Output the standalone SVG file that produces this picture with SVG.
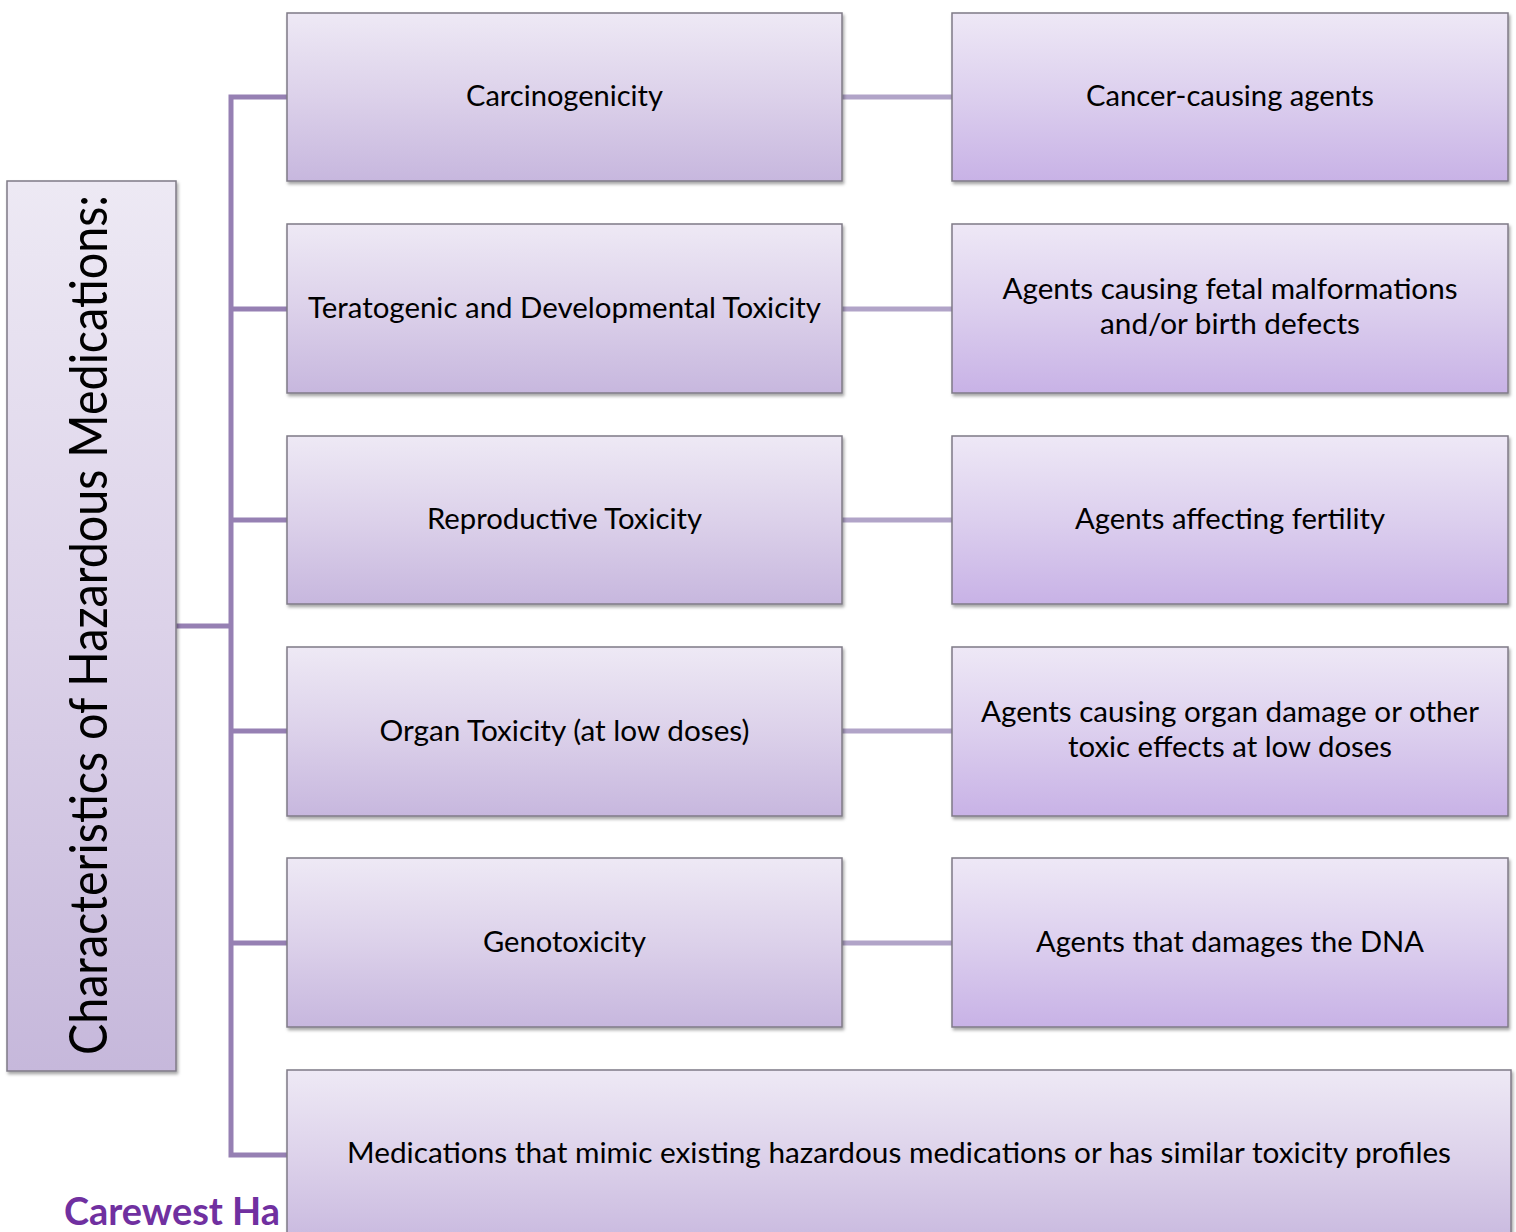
<svg xmlns="http://www.w3.org/2000/svg" width="1516" height="1232" viewBox="0 0 1516 1232">
<style>
.box{stroke:#7f7a86;stroke-width:1.5;filter:url(#sh)}
.mid{fill:url(#gMid)}
.rgt{fill:url(#gRgt)}
.t{font-family:Lato,"Open Sans","Liberation Sans",sans-serif;font-size:28px;fill:#000;text-anchor:middle}
.trunk{stroke:#9680b3;stroke-width:5;fill:none}
.link{stroke:#b1a4c8;stroke-width:5;fill:none}
</style>
<defs>
<linearGradient id="gMid" x1="0" y1="0" x2="0" y2="1">
<stop offset="0" stop-color="#eee9f5"/>
<stop offset="0.5" stop-color="#dcd1ea"/>
<stop offset="1" stop-color="#c7b7de"/>
</linearGradient>
<linearGradient id="gRgt" x1="0" y1="0" x2="0" y2="1">
<stop offset="0" stop-color="#eee8f6"/>
<stop offset="0.5" stop-color="#dccfee"/>
<stop offset="1" stop-color="#c8b2e6"/>
</linearGradient>
<linearGradient id="gLeft" x1="0" y1="0" x2="0" y2="1">
<stop offset="0" stop-color="#ede9f4"/>
<stop offset="0.5" stop-color="#dcd2e9"/>
<stop offset="1" stop-color="#c6b8db"/>
</linearGradient>
<filter id="sh" x="-5%" y="-5%" width="110%" height="115%">
<feDropShadow dx="1.5" dy="2.5" stdDeviation="1.8" flood-color="#000" flood-opacity="0.35"/>
</filter>
</defs>
<rect width="1516" height="1232" fill="#fff"/>

<text x="64" y="1225" font-family="Lato,'Open Sans','Liberation Sans',sans-serif" font-weight="bold" font-size="38" fill="#7030a0" textLength="216" lengthAdjust="spacingAndGlyphs">Carewest Ha</text>

<g id="connectors">
<path class="trunk" d="M176 626H231M287 97H231V1155H287M231 309H287M231 520H287M231 731H287M231 943H287"/>
<path class="link" d="M842 97H952M842 309H952M842 520H952M842 731H952M842 943H952"/>
</g>

<g id="root">
<rect class="box" x="7" y="181" width="169" height="890" fill="url(#gLeft)"/>
<text transform="translate(107 625) rotate(-90)" font-family="Lato,'Open Sans','Liberation Sans',sans-serif" font-size="52" text-anchor="middle" textLength="860" lengthAdjust="spacingAndGlyphs">Characteristics of Hazardous Medications:</text>
</g>

<g id="n1"><rect class="box mid" x="287" y="13" width="555" height="168"/><text class="t" x="564.5" y="106" textLength="197" lengthAdjust="spacingAndGlyphs">Carcinogenicity</text></g>
<g id="n2"><rect class="box mid" x="287" y="224" width="555" height="169"/><text class="t" x="564.5" y="318" textLength="513" lengthAdjust="spacingAndGlyphs">Teratogenic and Developmental Toxicity</text></g>
<g id="n3"><rect class="box mid" x="287" y="436" width="555" height="168"/><text class="t" x="564.5" y="529" textLength="275" lengthAdjust="spacingAndGlyphs">Reproductive Toxicity</text></g>
<g id="n4"><rect class="box mid" x="287" y="647" width="555" height="169"/><text class="t" x="564.5" y="741" textLength="370" lengthAdjust="spacingAndGlyphs">Organ Toxicity (at low doses)</text></g>
<g id="n5"><rect class="box mid" x="287" y="858" width="555" height="169"/><text class="t" x="564.5" y="952" textLength="163" lengthAdjust="spacingAndGlyphs">Genotoxicity</text></g>
<g id="n6"><rect class="box mid" x="287" y="1070" width="1224" height="180"/><text class="t" x="899" y="1163" textLength="1104" lengthAdjust="spacingAndGlyphs">Medications that mimic existing hazardous medications or has similar toxicity profiles</text></g>

<g id="r1"><rect class="box rgt" x="952" y="13" width="556" height="168"/><text class="t" x="1230" y="106" textLength="288" lengthAdjust="spacingAndGlyphs">Cancer-causing agents</text></g>
<g id="r2"><rect class="box rgt" x="952" y="224" width="556" height="169"/><text class="t" x="1230" y="299" textLength="455" lengthAdjust="spacingAndGlyphs">Agents causing fetal malformations</text><text class="t" x="1230" y="334" textLength="260" lengthAdjust="spacingAndGlyphs">and/or birth defects</text></g>
<g id="r3"><rect class="box rgt" x="952" y="436" width="556" height="168"/><text class="t" x="1230" y="529" textLength="310" lengthAdjust="spacingAndGlyphs">Agents affecting fertility</text></g>
<g id="r4"><rect class="box rgt" x="952" y="647" width="556" height="169"/><text class="t" x="1230" y="722" textLength="498" lengthAdjust="spacingAndGlyphs">Agents causing organ damage or other</text><text class="t" x="1230" y="757" textLength="324" lengthAdjust="spacingAndGlyphs">toxic effects at low doses</text></g>
<g id="r5"><rect class="box rgt" x="952" y="858" width="556" height="169"/><text class="t" x="1230" y="952" textLength="388" lengthAdjust="spacingAndGlyphs">Agents that damages the DNA</text></g>
</svg>
